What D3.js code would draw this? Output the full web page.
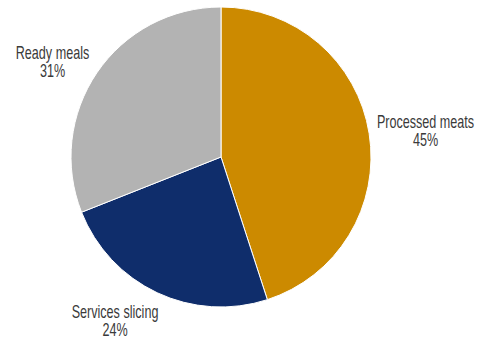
<!DOCTYPE html>
<html>
<head>
<meta charset="utf-8">
<script src="https://cdn.jsdelivr.net/npm/d3@7"></script>
<style>
  html, body { margin: 0; padding: 0; background: #ffffff; }
  svg { display: block; }
  .lbl { font-family: "Liberation Sans", Arial, sans-serif; font-size: 17.5px; fill: #3a3a3a; }
</style>
</head>
<body>
<svg id="chart" width="478" height="340"></svg>
<script>
// Product mix shares (percent)
const categories = ["Processed meats", "Services slicing", "Ready meals"];
const shares = [45, 24, 31];
const colors = ["#CC8A00", "#0F2D6B", "#B3B3B3"];

const W = 478, H = 340;
const cx = 221, cy = 157, R = 150;

// first-line baseline of each label, offset from the pie centre
const labelOffsets = [[204.5, -29.5], [-106, 161], [-168.5, -98.5]];
const lineGap = 18.5;
const condense = 0.72; // horizontal squeeze for a narrow face

const svg = d3.select("#chart");
const g = svg.append("g").attr("transform", `translate(${cx},${cy})`);

const pie = d3.pie().sort(null).value(d => d)(shares);
const arc = d3.arc().innerRadius(0).outerRadius(R);

g.selectAll("path.slice")
  .data(pie)
  .join("path")
  .attr("class", "slice")
  .attr("d", arc)
  .attr("fill", (d, i) => colors[i])
  .attr("stroke", "#ffffff")
  .attr("stroke-width", 1);

const labels = g.selectAll("text.lbl")
  .data(pie)
  .join("text")
  .attr("class", "lbl")
  .attr("text-anchor", "middle")
  .attr("transform", (d, i) =>
    `translate(${labelOffsets[i][0]},${labelOffsets[i][1]}) scale(${condense},1)`);

labels.append("tspan")
  .attr("x", 0).attr("y", 0)
  .text((d, i) => categories[i]);
labels.append("tspan")
  .attr("x", 0).attr("y", lineGap)
  .text(d => d.data + "%");
</script>
</body>
</html>
